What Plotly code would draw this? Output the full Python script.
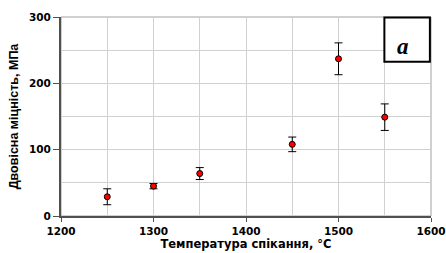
import plotly.graph_objects as go

temps = [1250, 1300, 1350, 1450, 1500, 1550]
strength = [29, 45, 64, 108, 237, 149]
err = [12, 4, 9, 11, 24, 20]
x_ticks = [1200, 1300, 1400, 1500, 1600]
y_ticks = [0, 100, 200, 300]

fig = go.Figure()
fig.add_trace(go.Scatter(
    x=temps, y=strength, mode="markers",
    marker=dict(color="red", size=6, line=dict(color="black", width=1)),
    error_y=dict(type="data", array=err, visible=True, color="black", thickness=1, width=4),
    showlegend=False,
))

tick_font = dict(family="DejaVu Sans, sans-serif", size=10.5, weight="bold", color="black")
fig.update_layout(
    width=446, height=253,
    margin=dict(l=61, r=15, t=17, b=37),
    plot_bgcolor="white", paper_bgcolor="white",
    font=dict(family="Arial, Liberation Sans, sans-serif", color="black"),
    xaxis=dict(
        range=[1200, 1600], tickmode="array", tickvals=x_ticks,
        ticktext=[str(v) for v in x_ticks],
        showgrid=True, gridcolor="#d0d0d0", gridwidth=1,
        minor=dict(dtick=50, tick0=1200, showgrid=True, gridcolor="#d0d0d0", ticks=""),
        showline=True, linecolor="#505050", linewidth=2,
        ticks="outside", ticklen=4, tickcolor="#505050",
        tickfont=tick_font,
        title=dict(text="Температура спікання, °С",
                   font=dict(family="DejaVu Sans, sans-serif", size=11.5, weight="bold"), standoff=3),
        zeroline=False, automargin=False,
    ),
    yaxis=dict(
        range=[0, 300], tickmode="array", tickvals=y_ticks,
        ticktext=[str(v) for v in y_ticks],
        showgrid=True, gridcolor="#d0d0d0",
        minor=dict(dtick=50, tick0=0, showgrid=True, gridcolor="#d0d0d0", ticks=""),
        showline=True, linecolor="#505050", linewidth=2,
        ticks="outside", ticklen=6, tickcolor="#505050",
        tickfont=tick_font,
        title=dict(text="Двовісна міцність, МПа",
                   font=dict(family="Arial, Liberation Sans, sans-serif", size=12.5, weight="bold"), standoff=8),
        zeroline=False, automargin=False,
    ),
)

# top/right plot border
fig.add_shape(type="rect", xref="paper", yref="paper", x0=0, y0=0, x1=1, y1=1,
              line=dict(color="#a0a0a0", width=1), layer="below")

# label box "а"
fig.add_shape(type="rect", xref="paper", yref="paper", x0=0.874, y0=0.775, x1=0.997, y1=0.997,
              line=dict(color="black", width=2), fillcolor="white")
fig.add_annotation(x=0.945, y=0.85, xref="paper", yref="paper",
                   text="<b><i>а</i></b>", showarrow=False, yanchor="middle",
                   font=dict(family="Times New Roman, Liberation Serif, serif", size=23, color="black"))

fig.write_html("out.html", config={"displayModeBar": False},
               post_script="document.body.style.margin='0';")
